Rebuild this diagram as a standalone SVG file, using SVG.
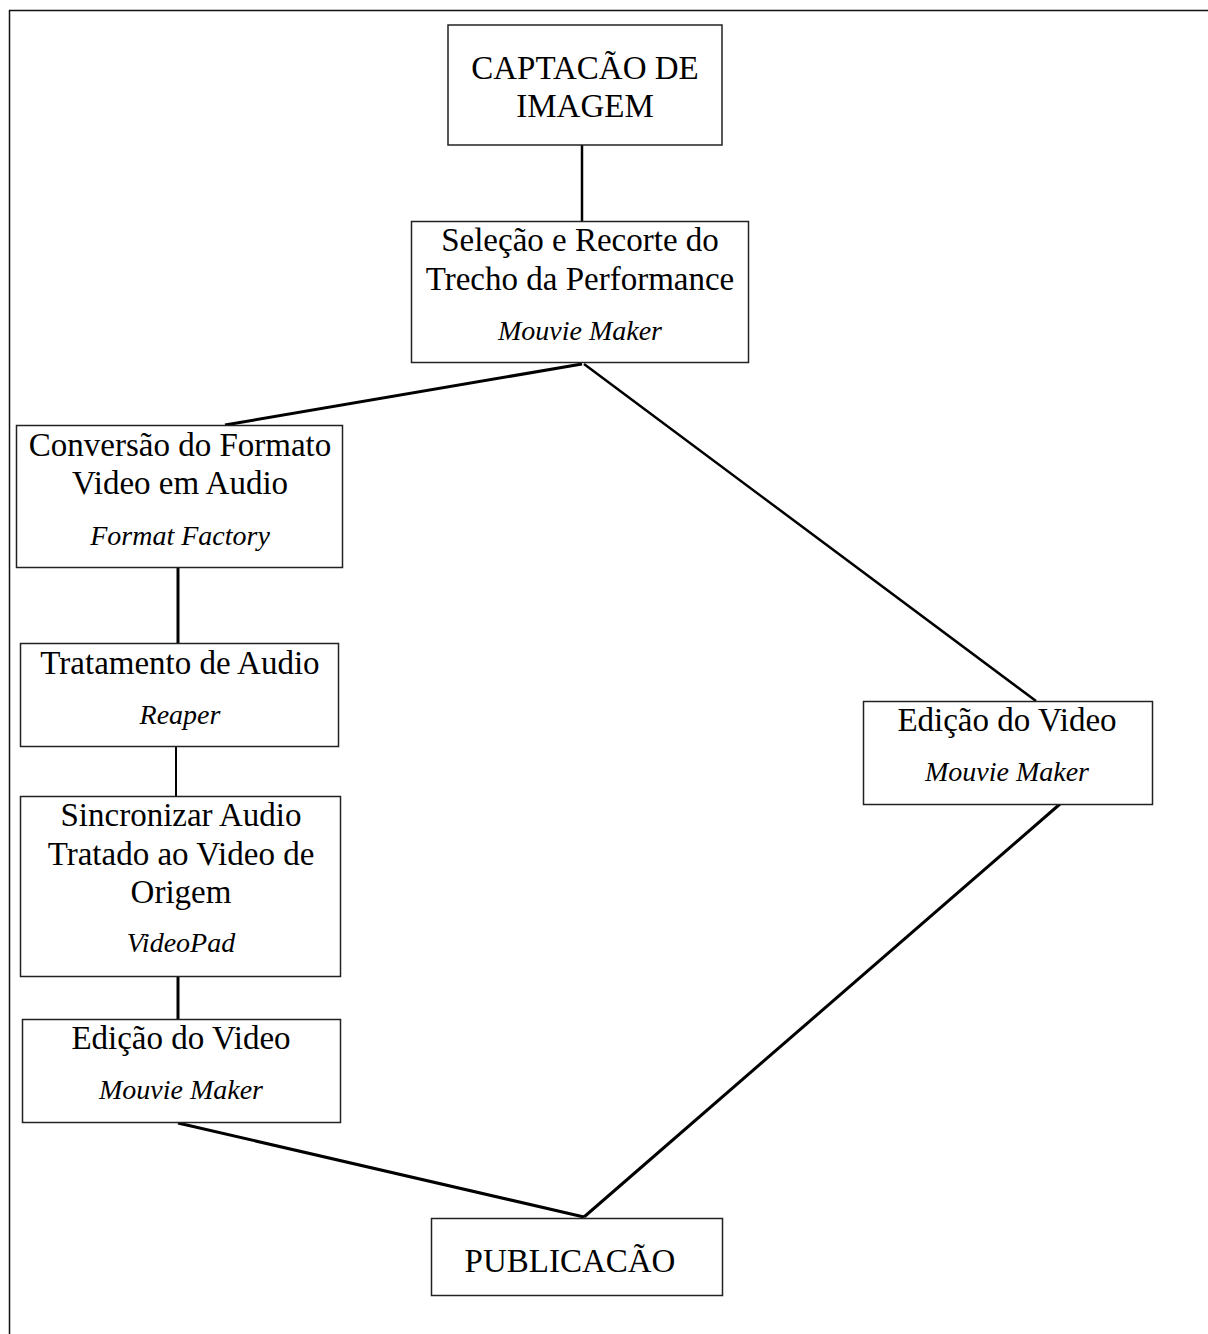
<svg xmlns="http://www.w3.org/2000/svg" width="1208" height="1334" viewBox="0 0 1208 1334">
<style>
.box{fill:#fff;stroke:#222;stroke-width:1.5}
.t{font-family:"Liberation Serif","Times New Roman",serif;font-size:33px;fill:#000;text-anchor:middle}
.i{font-family:"Liberation Serif","Times New Roman",serif;font-size:28px;font-style:italic;fill:#000;text-anchor:middle}
.c{stroke:#000;fill:none}
</style>
<rect width="1208" height="1334" fill="#fff"/>
<path d="M9.5,1334 V10.5 H1208" fill="none" stroke="#111" stroke-width="1.5"/>
<g id="connectors">
<line class="c" x1="582" y1="145" x2="582" y2="221" stroke-width="2.5"/>
<line class="c" x1="582" y1="364" x2="225" y2="425" stroke-width="3"/>
<line class="c" x1="584" y1="364" x2="1036" y2="701" stroke-width="2.5"/>
<line class="c" x1="178" y1="568" x2="178" y2="643" stroke-width="3"/>
<line class="c" x1="176" y1="747" x2="176" y2="796" stroke-width="2"/>
<line class="c" x1="178" y1="977" x2="178" y2="1019" stroke-width="3"/>
<line class="c" x1="178" y1="1123" x2="584" y2="1217" stroke-width="3"/>
<line class="c" x1="1060" y1="804" x2="584" y2="1217" stroke-width="3"/>
</g>
<g id="captacao">
<rect class="box" x="448" y="25" width="274" height="120"/>
<text class="t" x="585" y="79">CAPTACÃO DE</text>
<text class="t" x="585" y="117">IMAGEM</text>
</g>
<g id="selecao">
<rect class="box" x="411.5" y="221.5" width="337" height="141"/>
<text class="t" x="580" y="251">Seleção e Recorte do</text>
<text class="t" x="580" y="290">Trecho da Performance</text>
<text class="i" x="580" y="340">Mouvie Maker</text>
</g>
<g id="conversao">
<rect class="box" x="16.5" y="425.5" width="326" height="142"/>
<text class="t" x="180" y="456">Conversão do Formato</text>
<text class="t" x="180" y="494">Video em Audio</text>
<text class="i" x="180" y="545">Format Factory</text>
</g>
<g id="tratamento">
<rect class="box" x="20.5" y="643.5" width="318" height="103"/>
<text class="t" x="180" y="674">Tratamento de Audio</text>
<text class="i" x="180" y="724">Reaper</text>
</g>
<g id="sincronizar">
<rect class="box" x="20.5" y="796.5" width="320" height="180"/>
<text class="t" x="181" y="826">Sincronizar Audio</text>
<text class="t" x="181" y="865">Tratado ao Video de</text>
<text class="t" x="181" y="903">Origem</text>
<text class="i" x="181" y="952">VideoPad</text>
</g>
<g id="edicao-esq">
<rect class="box" x="22.5" y="1019.5" width="318" height="103"/>
<text class="t" x="181" y="1049">Edição do Video</text>
<text class="i" x="181" y="1099">Mouvie Maker</text>
</g>
<g id="edicao-dir">
<rect class="box" x="863.5" y="701.5" width="289" height="103"/>
<text class="t" x="1007" y="731">Edição do Video</text>
<text class="i" x="1007" y="781">Mouvie Maker</text>
</g>
<g id="publicacao">
<rect class="box" x="431.5" y="1218.5" width="291" height="77"/>
<text class="t" x="570" y="1272">PUBLICACÃO</text>
</g>
</svg>
